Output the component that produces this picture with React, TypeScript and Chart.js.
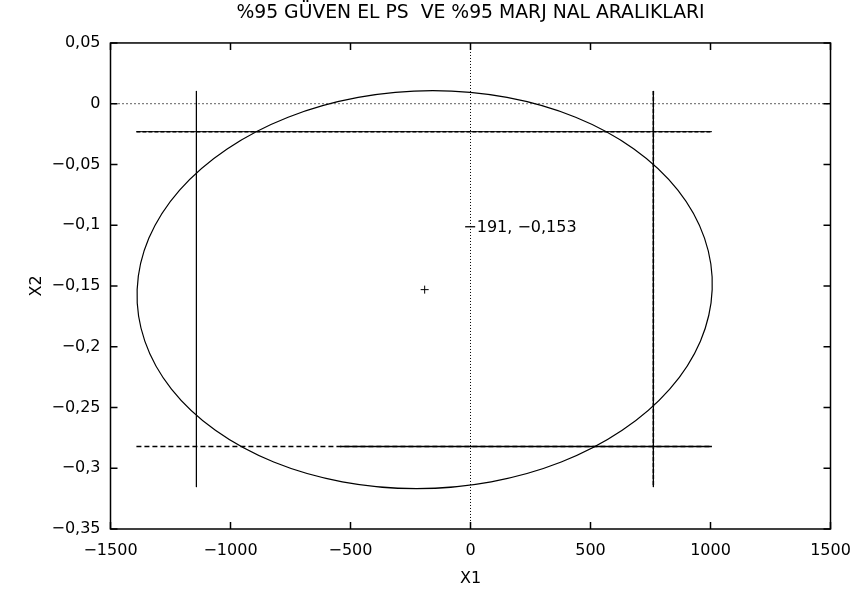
import { useEffect, useRef } from "react";
import { Chart, registerables } from "chart.js";

Chart.register(...registerables);

const TITLE = "%95 GÜVEN EL PS  VE %95 MARJ NAL ARALIKLARI";
const X_TITLE = "X1";
const Y_TITLE = "X2";
const X_TICKS = [-1500, -1000, -500, 0, 500, 1000, 1500];
const Y_TICKS = [0.05, 0, -0.05, -0.1, -0.15, -0.2, -0.25, -0.3, -0.35];

// confidence ellipse outline (drawn as a closed loop)
const ELLIPSE_X = [
  1007, 975, 864, 681, 438, 152, -157, -468, -760, -1014, -1212, -1340, -1389, -1357, -1246, -1063, -820, -534,
  -225, 86, 378, 632, 830, 958,
];
const ELLIPSE_Y = [
  -0.153, -0.1106, -0.0711, -0.0372, -0.0111, 0.0052, 0.0108, 0.0052, -0.0111, -0.0372, -0.0711, -0.1106, -0.153,
  -0.1954, -0.2349, -0.2688, -0.2949, -0.3112, -0.3168, -0.3112, -0.2949, -0.2688, -0.2349, -0.1954,
];

// centre of the ellipse
const CENTER_X = -191;
const CENTER_Y = -0.153;
const CENTER_LABEL = "−191, −0,153";
const CENTER_LABEL_X = -30;
const CENTER_LABEL_Y = -0.1023;

// marginal intervals
const X2_UPPER = -0.023;
const X2_LOWER = -0.2822;
const X1_LEFT = -1142;
const X1_RIGHT = 762;
const H_START = -1392;
const H_END = 1006;
const H_LOWER_SOLID_START = -544;
const V_TOP = 0.0105;
const V_BOTTOM = -0.3155;

const FONT = '"DejaVu Sans", sans-serif';
const ELLIPSE_INDEX = 2;

const fmt = (v: number) => String(+v.toFixed(4)).replace(".", ",").replace("-", "−");

export default function App() {
  const ref = useRef<HTMLCanvasElement | null>(null);

  useEffect(() => {
    document.body.style.margin = "0";
    const canvas = ref.current;
    if (!canvas) return;

    const closeLoop = {
      id: "closeLoop",
      afterDatasetsUpdate(chart: any) {
        const el = chart.getDatasetMeta(ELLIPSE_INDEX).dataset;
        if (el) {
          el._loop = true;
          el._fullLoop = true;
          el._pointsUpdated = false;
          delete el._segments;
          el._path = undefined;
        }
      },
    };

    const frame = {
      id: "frame",
      afterDatasetsDraw(chart: any) {
        const { ctx, chartArea: a, scales } = chart;
        const xs = scales.x;
        const ys = scales.y;
        ctx.save();
        ctx.strokeStyle = "#000";
        ctx.lineWidth = 1.5;
        ctx.strokeRect(a.left, a.top, a.right - a.left, a.bottom - a.top);
        const tl = 7;
        ctx.beginPath();
        X_TICKS.forEach((v) => {
          const px = xs.getPixelForValue(v);
          ctx.moveTo(px, a.bottom);
          ctx.lineTo(px, a.bottom - tl);
          ctx.moveTo(px, a.top);
          ctx.lineTo(px, a.top + tl);
        });
        Y_TICKS.forEach((v) => {
          const py = ys.getPixelForValue(v);
          ctx.moveTo(a.left, py);
          ctx.lineTo(a.left + tl, py);
          ctx.moveTo(a.right, py);
          ctx.lineTo(a.right - tl, py);
        });
        ctx.stroke();
        ctx.fillStyle = "#000";
        ctx.font = `16px ${FONT}`;
        ctx.textAlign = "left";
        ctx.textBaseline = "middle";
        ctx.fillText(CENTER_LABEL, xs.getPixelForValue(CENTER_LABEL_X), ys.getPixelForValue(CENTER_LABEL_Y));
        ctx.restore();
      },
    };

    const line = (data: { x: number; y: number }[], extra: any = {}) => ({
      data,
      showLine: true,
      pointRadius: 0,
      borderColor: "#000",
      backgroundColor: "#000",
      borderWidth: 1,
      fill: false,
      ...extra,
    });

    const chart = new Chart(canvas, {
      type: "scatter",
      data: {
        datasets: [
          line(
            [
              { x: 0, y: Y_TICKS[0] },
              { x: 0, y: Y_TICKS[Y_TICKS.length - 1] },
            ],
            { borderDash: [1, 2] }
          ),
          line(
            [
              { x: X_TICKS[0], y: 0 },
              { x: X_TICKS[X_TICKS.length - 1], y: 0 },
            ],
            { borderDash: [1, 3], borderWidth: 1.2 }
          ),
          line(
            ELLIPSE_X.map((x, i) => ({ x, y: ELLIPSE_Y[i] })),
            { tension: 0.34, borderWidth: 1.2 }
          ),
          line([
            { x: H_START, y: X2_UPPER },
            { x: H_END, y: X2_UPPER },
          ]),
          line(
            [
              { x: H_START, y: X2_UPPER },
              { x: H_END, y: X2_UPPER },
            ],
            { borderDash: [4, 2], borderWidth: 1.5 }
          ),
          line(
            [
              { x: H_START, y: X2_LOWER },
              { x: H_END, y: X2_LOWER },
            ],
            { borderDash: [5, 3], borderWidth: 1.5 }
          ),
          line(
            [
              { x: H_LOWER_SOLID_START, y: X2_LOWER },
              { x: H_END, y: X2_LOWER },
            ],
            { borderWidth: 1.5 }
          ),
          line([
            { x: X1_LEFT, y: V_TOP },
            { x: X1_LEFT, y: V_BOTTOM },
          ]),
          line([
            { x: X1_RIGHT, y: V_TOP },
            { x: X1_RIGHT, y: V_BOTTOM },
          ]),
          line(
            [
              { x: X1_RIGHT, y: V_TOP },
              { x: X1_RIGHT, y: V_BOTTOM },
            ],
            { borderDash: [4, 2], borderWidth: 1.5 }
          ),
          {
            data: [{ x: CENTER_X, y: CENTER_Y }],
            showLine: false,
            pointStyle: "cross",
            pointRadius: 4,
            borderColor: "#000",
            borderWidth: 1,
          },
        ],
      },
      options: {
        animation: false,
        responsive: true,
        maintainAspectRatio: false,
        layout: { padding: { left: 0, right: 24.5, top: 0, bottom: 0 } },
        plugins: {
          legend: { display: false },
          tooltip: { enabled: false },
          title: {
            display: true,
            fullSize: false,
            text: TITLE,
            color: "#000",
            font: { family: FONT, size: 18.8, weight: "normal", lineHeight: 1.2 },
            padding: { top: 2, bottom: 18.4 },
          },
        },
        scales: {
          x: {
            type: "linear",
            min: X_TICKS[0],
            max: X_TICKS[X_TICKS.length - 1],
            afterBuildTicks: (s: any) => {
              s.ticks = X_TICKS.map((value) => ({ value }));
            },
            afterFit: (s: any) => {
              s.height = 62;
              s.paddingLeft = 0;
              s.paddingRight = 0;
            },
            grid: { display: false, drawTicks: false },
            border: { display: false },
            ticks: {
              color: "#000",
              padding: 12,
              font: { family: FONT, size: 16 },
              maxRotation: 0,
              callback: (v: any) => fmt(Number(v)),
            },
            title: {
              display: true,
              text: X_TITLE,
              color: "#000",
              font: { family: FONT, size: 16 },
              padding: { top: 0, bottom: 3 },
            },
          },
          y: {
            type: "linear",
            min: Y_TICKS[Y_TICKS.length - 1],
            max: Y_TICKS[0],
            afterBuildTicks: (s: any) => {
              s.ticks = Y_TICKS.map((value) => ({ value }));
            },
            afterFit: (s: any) => {
              s.width = 110.5;
              s.paddingTop = 0;
              s.paddingBottom = 0;
            },
            grid: { display: false, drawTicks: false },
            border: { display: false },
            ticks: {
              color: "#000",
              padding: 10,
              font: { family: FONT, size: 16 },
              callback: (v: any) => fmt(Number(v)),
            },
            title: {
              display: true,
              text: Y_TITLE,
              color: "#000",
              font: { family: FONT, size: 16 },
              padding: { top: 27, bottom: 0 },
            },
          },
        },
      },
      plugins: [closeLoop, frame],
    } as any);

    return () => chart.destroy();
  }, []);

  return (
    <div style={{ width: 855, height: 591, position: "relative" }}>
      <canvas ref={ref} />
    </div>
  );
}
